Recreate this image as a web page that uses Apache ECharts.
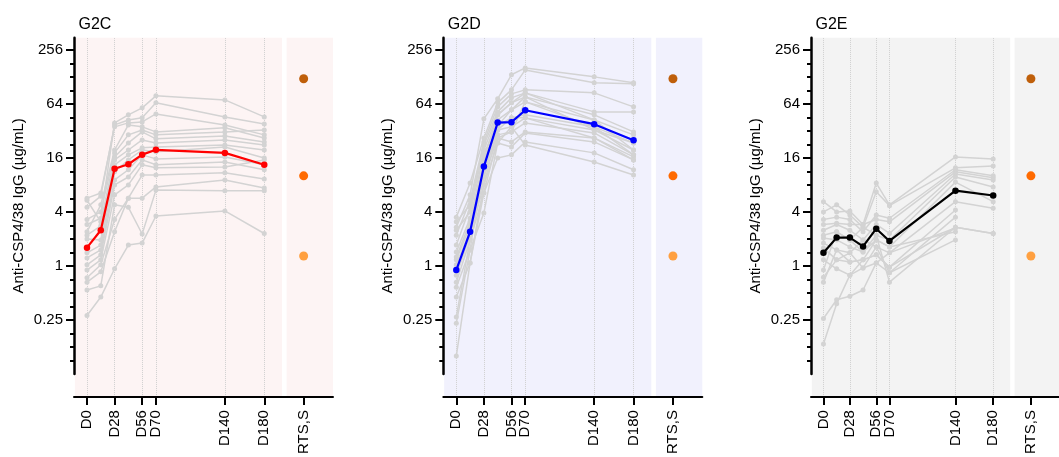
<!DOCTYPE html>
<html><head><meta charset="utf-8">
<script src="https://cdn.jsdelivr.net/npm/echarts@6/dist/echarts.min.js"></script>
<style>html,body{margin:0;padding:0;background:#fff}#c{width:1059px;height:457px}</style>
</head><body><div id="c"></div>
<script>
// ---- data ----
const days = [0, 14, 28, 42, 56, 70, 140, 180];
const xTickDays = [0, 28, 56, 70, 140, 180, 220];
const xTickLabels = ['D0', 'D28', 'D56', 'D70', 'D140', 'D180', 'RTS,S'];
const guideDays = [0, 28, 56, 70, 140, 180];
const yTickLog2 = [-2, 0, 2, 4, 6, 8];
const yTickLabels = ['0.25', '1', '4', '16', '64', '256'];
const rtssDay = 220;
const rtssValues = [122, 10.1, 1.29];
const rtssColors = ['#bf5f0a', '#ff6a00', '#ffa040'];

const g2cSubjects = [
  [2.9, 3.4, 39.3, 48.3, 57.8, 78.6, 70.9, 45.8],
  [4.5, 6.0, 37.3, 42.4, 44.7, 65.7, 45.8, 38.3],
  [5.7, 6.5, 35.5, 39.3, 40.3, 49.5, 37.3, 28.9],
  [2.4, 4.8, 19.6, 37.3, 35.5, 31.2, 34.6, 26.7],
  [3.3, 4.0, 18.2, 28.9, 32.8, 28.9, 31.2, 32.8],
  [5.4, 3.1, 16.4, 23.5, 31.2, 26.1, 28.1, 24.1],
  [2.2, 2.8, 15.2, 19.6, 25.4, 23.5, 25.4, 22.3],
  [2.0, 1.95, 13.4, 17.3, 20.7, 21.2, 22.3, 19.6],
  [1.4, 1.71, 11.2, 15.2, 19.6, 18.7, 21.2, 16],
  [1.23, 1.51, 9.1, 11.8, 17.3, 15.6, 16.4, 13.4],
  [1.03, 1.33, 8, 9.8, 15.2, 13.4, 14.4, 11.8],
  [0.9, 1.17, 6.2, 8, 13.4, 12.4, 12.7, 15.2],
  [0.74, 1.03, 3.3, 5.7, 10.3, 10.3, 10.9, 9.3],
  [0.66, 0.86, 2.4, 5.7, 5.7, 7.6, 9.1, 7.4],
  [0.54, 0.6, 4.8, 4.5, 2.27, 7.0, 6.9, 6.9],
  [0.28, 0.45, 0.93, 1.71, 1.8, 3.6, 4.1, 2.3]
];
const g2cMean = [1.6, 2.5, 12.1, 13.6, 17.4, 19.7, 18.2, 13.4];

const g2dSubjects = [
  [2.7, 6.2, 43.6, 72.8, 135, 161, 128, 110],
  [3.5, 8.4, 26.7, 65.7, 91.7, 153, 110, 107],
  [2.2, 5.4, 24.1, 59.3, 82.7, 91.7, 84.9, 59.3],
  [3.1, 4.8, 22.3, 52.1, 74.7, 84.9, 52.1, 52.1],
  [1.71, 4.5, 19.6, 48.3, 65.7, 76.6, 48.3, 31.2],
  [2.5, 4.0, 17.3, 42.4, 54.9, 67.4, 42.4, 28.9],
  [1.43, 3.4, 15.2, 36.4, 44.7, 48.3, 35.5, 23.5],
  [1.26, 3.1, 13.4, 32.8, 35.5, 44.7, 32.8, 19.6],
  [1.17, 2.8, 11.8, 28.9, 31.2, 39.3, 30.4, 17.3],
  [1.03, 2.5, 9.8, 26.7, 24.1, 31.2, 26.7, 16.4],
  [0.79, 2.2, 8, 23.5, 21.2, 30.4, 24.1, 15.2],
  [0.66, 1.95, 6.5, 16, 17.3, 24.1, 18.2, 11.8],
  [0.58, 1.51, 3.9, 23.5, 35.5, 22.3, 14.4, 10.3],
  [0.45, 1.08, 8, 32.8, 44.7, 44.7, 26.7, 15.2],
  [0.27, 1.95, 9.8, 36.4, 54.9, 76.6, 32.8, 23.5],
  [0.23, 1.51, 15.2, 48.3, 65.7, 84.9, 42.4, 19.6],
  [0.099, 1.08, 6.5, 26.7, 31.2, 67.4, 35.5, 17.3]
];
const g2dMean = [0.9, 2.4, 12.8, 39.6, 40, 54.4, 38, 25.2];

const g2eSubjects = [
  [5.2, 4.0, 4.1, 2.9, 8.4, 4.8, 16.4, 15.6],
  [4.0, 4.8, 3.7, 2.7, 6.7, 4.7, 12.4, 13.0],
  [3.3, 3.5, 3.3, 2.4, 3.7, 3.4, 11.8, 10.1],
  [2.9, 3.0, 2.9, 2.9, 3.3, 3.1, 11.2, 9.6],
  [2.5, 2.9, 2.5, 1.95, 2.9, 2.3, 10.6, 9.1],
  [2.2, 2.4, 1.95, 2.7, 2.2, 1.95, 9.8, 7.6],
  [2.05, 1.95, 1.63, 1.43, 1.95, 1.63, 8.6, 5.2],
  [1.8, 1.51, 1.40, 1.95, 1.63, 1.40, 5.2, 4.4],
  [1.59, 1.17, 1.11, 1.17, 1.33, 0.97, 4.2, null],
  [1.17, 0.93, 0.79, 0.95, 1.63, 0.84, 3.5, null],
  [0.90, 2.4, 1.95, 1.43, 2.2, 0.66, 2.7, 2.3],
  [0.75, 1.17, 1.40, 0.95, 1.08, 1.40, 2.65, null],
  [0.66, 1.51, 1.11, 1.17, 1.95, 1.63, 2.4, null],
  [0.26, 0.42, 0.46, 0.54, 1.08, 0.84, 1.95, null],
  [0.135, 0.38, 0.79, 1.17, 1.33, 0.97, 2.7, 2.3]
];
const g2eMean = [1.4, 2.07, 2.07, 1.65, 2.6, 1.9, 6.9, 6.1];

// ---- layout / style ----
const FONT = '"Liberation Sans", Arial, sans-serif';
const panels = [
  { title: 'G2C', left: 74, bg: '#fdf4f4', mean: g2cMean, meanColor: '#ff0000', subjects: g2cSubjects },
  { title: 'G2D', left: 443.3, bg: '#f1f1fd', mean: g2dMean, meanColor: '#0000ff', subjects: g2dSubjects },
  { title: 'G2E', left: 811, bg: '#f3f3f3', mean: g2eMean, meanColor: '#000000', subjects: g2eSubjects }
];
const TOP = 37.7, DATA_BOTTOM = 374, AXIS_BOTTOM = 402, W = 259;
const XMIN = -13.2, XMAX = 249.8;
const LOGMIN = -4, LOGMAX = 8.45;
const minorTicks = [];
for (let v = -3.5; v <= 8; v += 0.5) { if (yTickLog2.indexOf(v) < 0) minorTicks.push(v); }

const option = {
  animation: false,
  textStyle: { fontFamily: FONT },
  title: [], grid: [], xAxis: [], yAxis: [], series: []
};

panels.forEach((p, i) => {
  option.title.push({
    text: p.title, left: p.left + 4.5, top: 16.5, padding: 0,
    textStyle: { fontSize: 16, fontWeight: 'normal', color: '#000', fontFamily: FONT }
  });
  const gX = option.grid.length;
  option.grid.push({ left: p.left, top: TOP, width: W, height: AXIS_BOTTOM - TOP, containLabel: false });
  const gD = option.grid.length;
  option.grid.push({ left: p.left, top: TOP, width: W, height: DATA_BOTTOM - TOP, containLabel: false });

  const xA = option.xAxis.length;
  option.xAxis.push({
    gridIndex: gX, type: 'value', min: XMIN, max: XMAX, position: 'bottom', z: 10,
    axisLine: { show: true, onZero: false, lineStyle: { color: '#000', width: 2 } },
    axisTick: { show: true, customValues: xTickDays, length: 8, lineStyle: { color: '#000', width: 2 } },
    axisLabel: {
      show: true, customValues: xTickDays, rotate: 90, margin: 13, fontSize: 15, color: '#000', fontFamily: FONT,
      formatter: v => { const k = xTickDays.indexOf(v); return k >= 0 ? xTickLabels[k] : ''; }
    },
    splitLine: { show: false }
  });
  const xD = option.xAxis.length;
  option.xAxis.push({ gridIndex: gD, type: 'value', min: XMIN, max: XMAX, show: false });

  const yX = option.yAxis.length;
  option.yAxis.push({ gridIndex: gX, type: 'value', min: 0, max: 1, show: false });
  const yD = option.yAxis.length;
  option.yAxis.push({ gridIndex: gD, type: 'log', logBase: 2, min: Math.pow(2, LOGMIN), max: Math.pow(2, LOGMAX), show: false });
  option.yAxis.push({
    gridIndex: gD, type: 'value', min: LOGMIN, max: LOGMAX, position: 'left', z: 10,
    name: 'Anti-CSP4/38 IgG (µg/mL)', nameLocation: 'middle', nameGap: 48, nameRotate: 90,
    nameTextStyle: { fontSize: 15, color: '#000', fontFamily: FONT },
    axisLine: { show: true, onZero: false, lineStyle: { color: '#000', width: 2.5 } },
    axisTick: { show: true, customValues: yTickLog2, length: 8, lineStyle: { color: '#000', width: 2 } },
    axisLabel: {
      show: true, customValues: yTickLog2, margin: 11, fontSize: 15, color: '#000', fontFamily: FONT,
      formatter: v => { const k = yTickLog2.indexOf(v); return k >= 0 ? yTickLabels[k] : ''; }
    },
    splitLine: { show: false }
  });
  option.yAxis.push({
    gridIndex: gD, type: 'value', min: LOGMIN, max: LOGMAX, position: 'left', z: 10,
    axisLine: { show: false, onZero: false },
    axisTick: { show: true, customValues: minorTicks, length: 4, lineStyle: { color: '#000', width: 2 } },
    axisLabel: { show: false },
    splitLine: { show: false }
  });

  // backgrounds + dotted guide lines (kept beneath the data)
  option.series.push({
    type: 'line', xAxisIndex: xA, yAxisIndex: yX, data: [], z: 0, silent: true,
    markArea: {
      silent: true, z: 0, itemStyle: { color: p.bg },
      data: [[{ xAxis: -12.3 }, { xAxis: 198 }], [{ xAxis: 202.7 }, { xAxis: XMAX }]]
    },
    markLine: {
      silent: true, z: 1, symbol: ['none', 'none'], label: { show: false },
      lineStyle: { color: '#cfcfcf', type: 'dotted', width: 1 },
      data: guideDays.map(d => ({ xAxis: d }))
    }
  });

  p.subjects.forEach(s => {
    option.series.push({
      type: 'line', xAxisIndex: xD, yAxisIndex: yD, z: 2, silent: true,
      data: days.map((d, j) => [d, s[j]]).filter(pt => pt[1] !== null),
      symbol: 'circle', symbolSize: 5, showSymbol: true,
      lineStyle: { color: '#d3d3d3', width: 1.5 },
      itemStyle: { color: '#d3d3d3', borderWidth: 0 }
    });
  });
  const meanData = days.map((d, j) => [d, p.mean[j]]);
  option.series.push({
    type: 'line', xAxisIndex: xD, yAxisIndex: yD, z: 3, silent: true,
    data: meanData, showSymbol: false, symbol: 'none',
    lineStyle: { color: p.meanColor, width: 2.2 }
  });
  option.series.push({
    type: 'scatter', xAxisIndex: xD, yAxisIndex: yD, z: 4, silent: true, symbolSize: 6.5,
    data: meanData, itemStyle: { color: p.meanColor, opacity: 1, borderWidth: 0 }
  });
  option.series.push({
    type: 'scatter', xAxisIndex: xD, yAxisIndex: yD, z: 3, silent: true, symbolSize: 9,
    data: rtssValues.map((v, k) => ({ value: [rtssDay, v], itemStyle: { color: rtssColors[k], borderWidth: 0, opacity: 1 } }))
  });
});

const chart = echarts.init(document.getElementById('c'), null, { renderer: 'canvas' });
chart.setOption(option);
</script></body></html>
